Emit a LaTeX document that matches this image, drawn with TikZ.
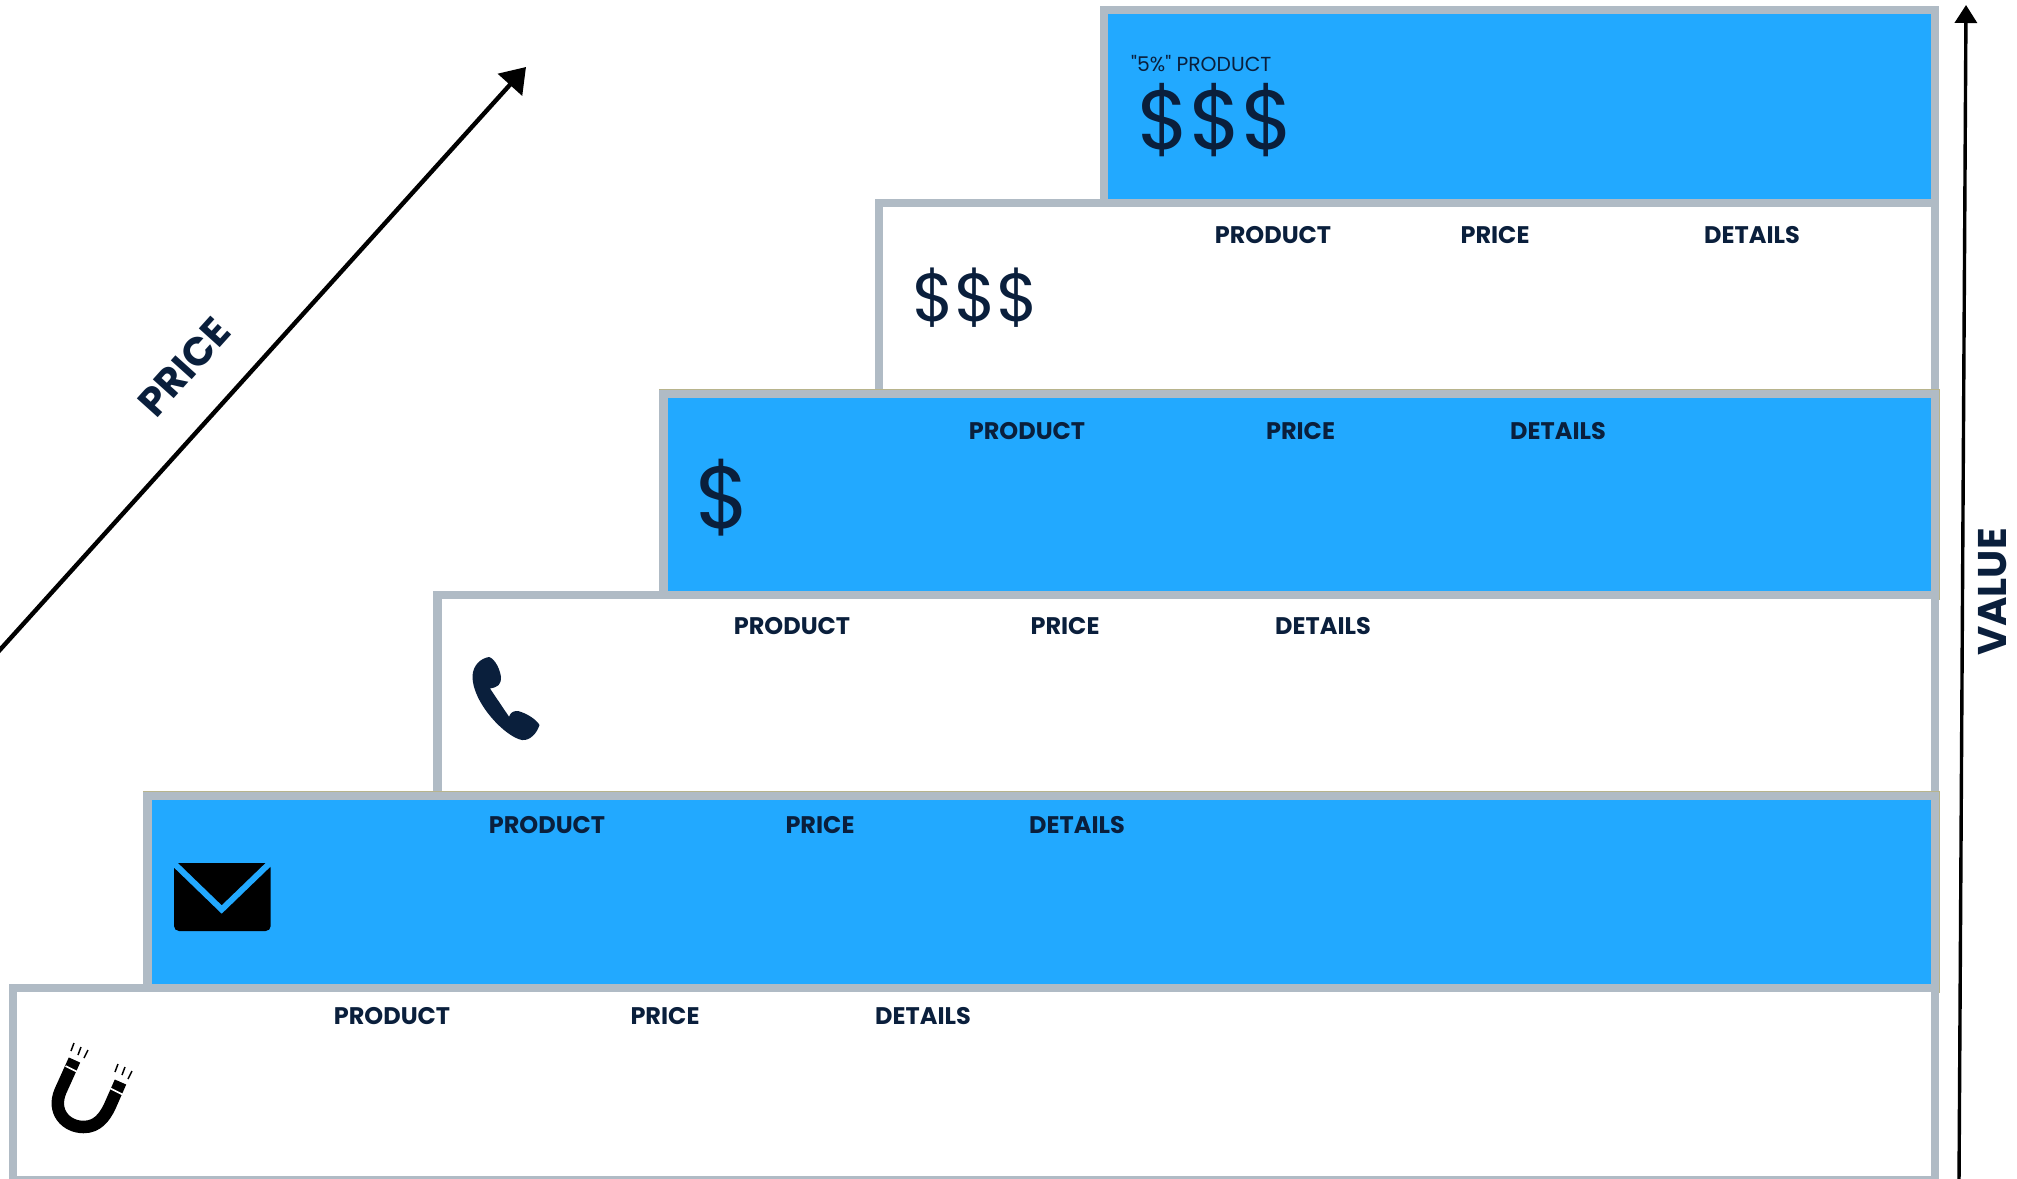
\documentclass[tikz,border=0pt]{standalone}
\usepackage{fontspec}
\usepackage{xcolor}
\usetikzlibrary{arrows.meta}
\setmainfont[Ligatures=TeXOff]{Poppins}
\definecolor{stepgray}{HTML}{B0BBC5}
\definecolor{stepblue}{HTML}{22A9FF}
\definecolor{stepnavy}{HTML}{0A1F3C}
\definecolor{steptan}{HTML}{B8B48C}
\tikzset{
    whitestep/.style={draw=stepgray,line width=8.4pt,fill=white,anchor=north west,outer sep=0pt,inner sep=0pt},
    bluestep/.style={whitestep,fill=stepblue},
    tanedge/.style={preaction={draw=steptan,line width=9.4pt}},
    head/.style={text=stepnavy,font=\bfseries\fontsize{24}{24}\selectfont,inner sep=0pt},
    money/.style={text=stepnavy,anchor=west,inner sep=0pt},
    axis/.style={line width=3.4pt,-{Triangle[width=22pt,length=18pt]}},
    axislabel/.style={text=stepnavy,font=\bfseries\fontsize{40}{40}\selectfont,inner sep=0pt}
}
\begin{document}
\begin{tikzpicture}[x=1pt,y=-1pt]
    \useasboundingbox (0,0) rectangle (2017,1178);
    % steps, top one first
    \node[bluestep,minimum width=831pt,minimum height=193pt] (s1) at (1104,10) {};
    \node[whitestep,minimum width=1056pt,minimum height=191pt] (s2) at (879,203) {};
    \node[bluestep,tanedge,minimum width=1271.5pt,minimum height=201pt] (s3) at (663.5,394) {};
    \node[whitestep,minimum width=1497.5pt,minimum height=201pt] (s4) at (437.5,595) {};
    \node[bluestep,tanedge,minimum width=1787.5pt,minimum height=192pt] (s5) at (147.5,796) {};
    \node[whitestep,minimum width=1922pt,minimum height=192pt] (s6) at (13,988) {};
    % column heads
    \node[head] (p2) at (1273,235) {PRODUCT};
    \node[head] (q2) at (1495,235) {PRICE};
    \node[head] (d2) at (1752,235) {DETAILS};
    \node[head] (p3) at (1027,431.5) {PRODUCT};
    \node[head] (q3) at (1300.5,431.5) {PRICE};
    \node[head] (d3) at (1558,431.5) {DETAILS};
    \node[head] (p4) at (792,626) {PRODUCT};
    \node[head] (q4) at (1065,626) {PRICE};
    \node[head] (d4) at (1323,626) {DETAILS};
    \node[head] (p5) at (547,825.5) {PRODUCT};
    \node[head] (q5) at (820,825.5) {PRICE};
    \node[head] (d5) at (1077,825.5) {DETAILS};
    \node[head] (p6) at (392,1016) {PRODUCT};
    \node[head] (q6) at (665,1016) {PRICE};
    \node[head] (d6) at (923,1016) {DETAILS};
    % money signs
    \node[text=stepnavy,anchor=west,inner sep=0pt,font=\fontsize{20.3}{20.3}\selectfont] (five) at (1131,64) {"5\%" PRODUCT};
    \node[money,font=\fontsize{84}{84}\selectfont] (m1) at (1137,120) {\$\$\$};
    \node[money,font=\fontsize{68}{68}\selectfont] (m2) at (912,298) {\$\$\$};
    \node[money,font=\fontsize{88}{88}\selectfont] (m3) at (695,497.5) {\$};
    % phone
    \fill[stepnavy] (489.3,657) .. controls (496,660) and (500,670) .. (501,677)
        .. controls (501,685) and (498,687) .. (490,688.5)
        -- (509,716.7) .. controls (511,711) and (515,711) .. (518,711)
        .. controls (526,713) and (536,719) .. (539.5,725)
        .. controls (537,733) and (530,741) .. (522,740)
        .. controls (505,737) and (472,702) .. (472.5,676)
        .. controls (473,665) and (481,658) .. (489.3,657) -- cycle;
    % envelope
    \fill[black,rounded corners=5pt] (174,863) -- (174,931) -- (270.7,931) -- (270.7,863) [sharp corners] -- cycle;
    \draw[stepblue,line width=6pt] (171,860.5) -- (221.7,909.5) -- (272.5,860.5);
    % magnet
    \draw[black,line width=12.5pt] (74.5,1060) -- (60.5,1091) .. controls (51.5,1112) and (66.5,1127) .. (83.5,1127)
        .. controls (97.5,1127) and (104.5,1117) .. (109.5,1107) -- (120.5,1082);
    \draw[white,line width=1.6pt] (65.5,1066) -- (79.5,1073);
    \draw[white,line width=1.6pt] (109.5,1088) -- (123.5,1095);
    \draw[black,line width=1.5pt] (71,1051) -- (74,1043);
    \draw[black,line width=1.5pt] (78,1055) -- (81,1047);
    \draw[black,line width=1.5pt] (84,1058) -- (88,1050);
    \draw[black,line width=1.5pt] (115,1072) -- (118,1064);
    \draw[black,line width=1.5pt] (122,1075) -- (125,1067);
    \draw[black,line width=1.5pt] (128,1079) -- (132,1071);
    % axes
    \coordinate (pricefrom) at (-2,652);
    \coordinate (priceto) at (526,67);
    \coordinate (valuefrom) at (1959,1180);
    \coordinate (valueto) at (1966,5);
    \draw[axis,line width=4.4pt,-{Triangle[width=32pt,length=24pt]}] (pricefrom) -- (priceto);
    \draw[axis] (valuefrom) -- (valueto);
    \node[axislabel,rotate=48] (pricelabel) at (184,367) {PRICE};
    \node[axislabel,rotate=90] (valuelabel) at (1993,592) {VALUE};
\end{tikzpicture}
\end{document}
